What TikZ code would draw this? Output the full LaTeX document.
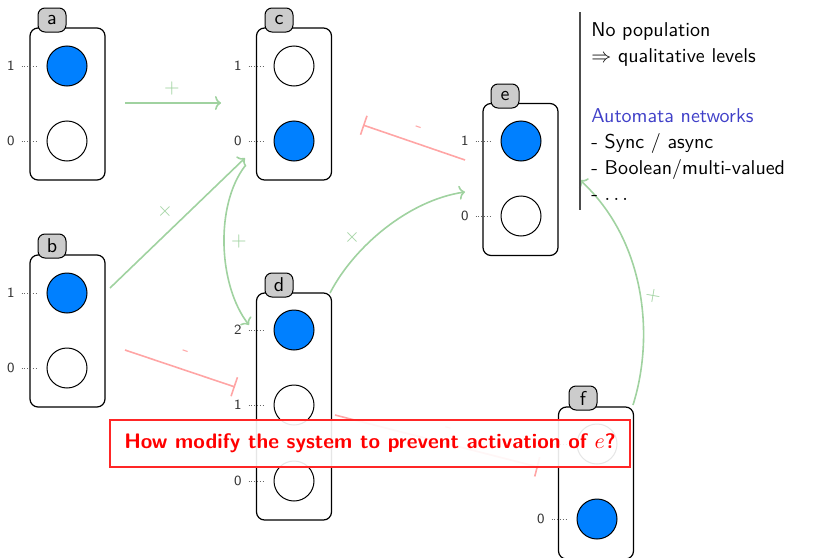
\documentclass[tikz,border=0pt]{standalone}
\usetikzlibrary{arrows.meta}
\definecolor{lvlblue}{RGB}{0,128,255}
\definecolor{tabgray}{RGB}{204,204,204}
\definecolor{egreen}{RGB}{160,210,160}
\definecolor{ered}{RGB}{255,165,165}
\definecolor{autoblue}{RGB}{64,64,200}
\begin{document}
\begin{tikzpicture}[x=0.5pt,y=-0.5pt,font=\sffamily,
  frame/.style={draw,rounded corners=4pt,line width=0.6pt,fill=white,minimum width=37.5pt,inner sep=0pt},
  frame2/.style={frame,minimum height=76pt},
  frame3/.style={frame,minimum height=113.5pt},
  tab/.style={draw,rounded corners=3.5pt,fill=tabgray,minimum width=14pt,minimum height=12pt,inner sep=0pt,line width=0.5pt,font=\sffamily\fontsize{10}{12}\selectfont},
  lvl/.style={circle,draw,minimum size=20pt,inner sep=0pt,line width=0.5pt},
  on/.style={lvl,fill=lvlblue},
  off/.style={lvl,fill=white},
  lvllabel/.style={font=\sffamily\scriptsize,text=black!80,anchor=east},
  lvldots/.style={densely dotted,draw=black!60,line width=0.4pt},
  act/.style={draw=egreen,line width=0.8pt,-{To[length=3pt,width=7pt]}},
  inh/.style={draw=ered,line width=0.8pt,-{Bar[width=10pt]}},
  lblg/.style={text=egreen,font=\normalsize,inner sep=0pt},
  lblr/.style={text=ered,font=\sffamily\normalsize,inner sep=0pt},
]
\useasboundingbox (0,0) rectangle (814,557);

% ---- automata frames
\node[frame2] (A) at (67.5,104) {};
\node[frame2] (C) at (294,104) {};
\node[frame2] (B) at (67.5,331) {};
\node[frame3] (D) at (294,406.5) {};
\node[frame2] (E) at (520.5,179.5) {};
\node[frame2] (F) at (596,483) {};

\node[tab] (At) at (52,20) {a};
\node[tab] (Ct) at (279,20) {c};
\node[tab] (Bt) at (52,246) {b};
\node[tab] (Dt) at (279,285) {d};
\node[tab] (Et) at (505,96) {e};
\node[tab] (Ft) at (583,398) {f};

% ---- levels
\node[on]  (a1) at (67,66) {};
\node[off] (a0) at (67,141) {};
\node[off] (c1) at (294,66) {};
\node[on]  (c0) at (294,141) {};
\node[on]  (b1) at (67,293) {};
\node[off] (b0) at (67,368) {};
\node[on]  (d2) at (294,330) {};
\node[off] (d1) at (294,405) {};
\node[off] (d0) at (294,481) {};
\node[on]  (e1) at (521,141) {};
\node[off] (e0) at (521,216) {};
\node[off] (f1) at (597,444) {};
\node[on]  (f0) at (597,519) {};

\foreach \n/\v in {a1/1,a0/0,c1/1,c0/0,b1/1,b0/0,d2/2,d1/1,d0/0,e1/1,e0/0,f1/1,f0/0}{
  \node[lvllabel] (\n l) at ([xshift=-12.5pt]\n.west) {\v};
  \draw[lvldots] (\n l.east) -- ([xshift=-4.5pt]\n.west);
}

% ---- edge end points
\coordinate (ac1) at (125,103);  \coordinate (ac2) at (221,103);
\coordinate (bc1) at (110,288);  \coordinate (bc2) at (245,158);
\coordinate (cd1) at (245,166);  \coordinate (cd2) at (249,325);
\coordinate (de1) at (330,293);  \coordinate (de2) at (465,192);
\coordinate (ec1) at (465,160);  \coordinate (ec2) at (363,125);
\coordinate (bd1) at (125,350);  \coordinate (bd2) at (235,387);
\coordinate (fe1) at (633,405);  \coordinate (fe2) at (580,180);
\coordinate (df1) at (335,415);  \coordinate (df2) at (538,467);

\draw[act] (ac1) -- (ac2);
\draw[act] (bc1) -- (bc2);
\draw[act] (cd1) .. controls (215,205) and (218,285) .. (cd2);
\draw[act] (de1) .. controls (355,245) and (410,200) .. (de2);
\draw[act] (fe1) .. controls (655,335) and (645,240) .. (fe2);
\draw[inh] (ec1) -- (ec2);
\draw[inh] (bd1) -- (bd2);
\draw[inh] (df1) -- (df2);

\node[lblg] (lac) at (172,88) {$+$};
\node[lblg,rotate=44] (lbc) at (165,211) {$+$};
\node[lblg] (lcd) at (239,241) {$+$};
\node[lblg,rotate=45] (lde) at (352,237) {$+$};
\node[lblg,rotate=80] (lfe) at (653,296) {$+$};
\node[lblr,rotate=-19] (lec) at (418,129) {-};
\node[lblr,rotate=-18.6] (lbd) at (185,353) {-};
\node[lblr,rotate=-15] (ldf) at (448,430) {-};

% ---- side notes
\coordinate (vt) at (580,12);
\coordinate (vb) at (580,210);
\draw[black!70,line width=0.6pt] (vt) -- (vb);
\node[anchor=north west,align=left,inner sep=0pt,font=\sffamily\fontsize{10}{13}\selectfont] (notes) at (591,22)
 {No population\\
  $\Rightarrow$ qualitative levels\\[17pt]
  \textcolor{autoblue}{Automata networks}\\
  - Sync / async\\
  - Boolean/multi-valued\\
  - $\ldots$};

% ---- question box
\node[draw=red!85,line width=0.6pt,fill=white,fill opacity=0.9,text opacity=1,text=red,
      font=\sffamily\bfseries\fontsize{10.5}{12}\selectfont,minimum width=260pt,minimum height=23.5pt] (Q) at (370,443.5)
 {How modify the system to prevent activation of $e$?};
\end{tikzpicture}
\end{document}
